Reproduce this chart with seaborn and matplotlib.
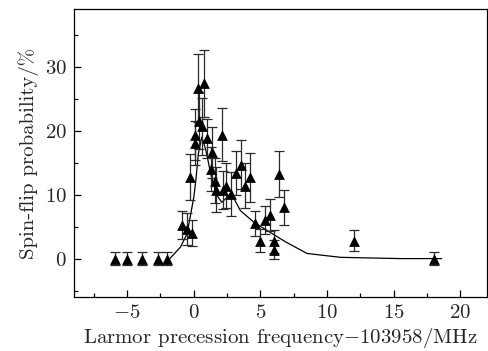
import matplotlib
matplotlib.use("Agg")
import matplotlib.pyplot as plt
import seaborn as sns
import pandas as pd
from matplotlib.ticker import MultipleLocator

# data
freq = [-5.9, -5.0, -3.9, -2.7, -2.0, -0.85, -0.53, -0.1, -0.28, 0.1, 0.1, 0.28, 0.77,
        0.4, 0.65, 0.98, 1.4, 2.1, 1.28, 1.58, 1.7, 2.2, 2.45, 2.78, 3.16, 3.53, 3.83,
        4.23, 4.6, 4.96, 5.34, 5.71, 6.04, 6.04, 6.41, 6.79, 12.05, 18.0]
prob = [0, 0, 0, 0, 0, 5.3, 4.7, 4.0, 12.7, 18.1, 19.4, 26.7, 27.4, 21.6, 20.7, 18.8,
        16.6, 19.4, 14.0, 12.2, 10.8, 10.7, 11.4, 10.1, 13.4, 14.7, 11.4, 12.7, 5.5,
        2.8, 6.1, 6.8, 2.7, 1.4, 13.2, 8.0, 2.8, 0]
err = [1.0, 1.0, 1.0, 1.0, 1.0, 2.2, 2.5, 2.1, 3.6, 3.5, 4.0, 5.3, 5.3, 4.5, 4.5, 3.0,
       4.0, 4.1, 3.5, 3.5, 3.5, 3.0, 3.5, 3.5, 3.5, 3.8, 3.5, 3.8, 2.0, 1.8, 2.2, 2.5,
       1.8, 1.5, 3.6, 2.8, 1.6, 1.0]
fit_x = [-1.8, -1.0, -0.5, 0.0, 0.15, 0.35, 0.6, 0.9, 1.3, 1.7, 2.1, 2.45, 2.8, 3.5,
         4.5, 5.5, 6.9, 8.5, 11.0, 15.5, 18.6]
fit_y = [0, 1.8, 3.9, 9.6, 12.2, 16.5, 19.0, 17.0, 13.0, 10.0, 8.8, 9.5, 10.2, 7.5,
         5.7, 4.4, 2.6, 0.8, 0.2, 0, 0]

sns.set_style("ticks")
plt.rcParams["font.family"] = ["cmr10", "DejaVu Serif"]
plt.rcParams["mathtext.fontset"] = "cm"
plt.rcParams["axes.formatter.use_mathtext"] = True
plt.rcParams["axes.unicode_minus"] = True

df = pd.DataFrame({"f": freq, "p": prob, "e": err})
fit = pd.DataFrame({"f": fit_x, "p": fit_y})

fig = plt.figure(figsize=(4.89, 3.51), dpi=100)
ax = fig.add_axes([0.151, 0.154, 0.845, 0.8195])

sns.lineplot(data=fit, x="f", y="p", ax=ax, color="black", lw=0.9, sort=False)
ax.errorbar(df["f"], df["p"], yerr=df["e"], fmt="none", ecolor="#2a2a2a",
            elinewidth=0.9, capsize=3.3, capthick=0.9, zorder=2)
sns.scatterplot(data=df, x="f", y="p", ax=ax, marker="^", s=60, color="black",
                edgecolor="black", linewidth=0, zorder=3)

ax.set_xlim(-9, 22)
ax.set_ylim(-6, 39)
ax.xaxis.set_major_locator(MultipleLocator(5))
ax.xaxis.set_minor_locator(MultipleLocator(2.5))
ax.yaxis.set_major_locator(MultipleLocator(10))
ax.yaxis.set_minor_locator(MultipleLocator(5))
ax.tick_params(which="both", direction="in", top=False, right=False, labelsize=15,
               width=0.9, color="black")
ax.tick_params(which="major", length=5, pad=5)
ax.tick_params(which="minor", length=3)
for s in ax.spines.values():
    s.set_linewidth(0.9)
    s.set_color("black")

ax.set_xlabel(r"Larmor precession frequency$-$103958/MHz", fontsize=15, labelpad=3)
ax.set_ylabel("Spin-flip probability/%", fontsize=15, labelpad=4)

fig.savefig("out.png", dpi=100)
